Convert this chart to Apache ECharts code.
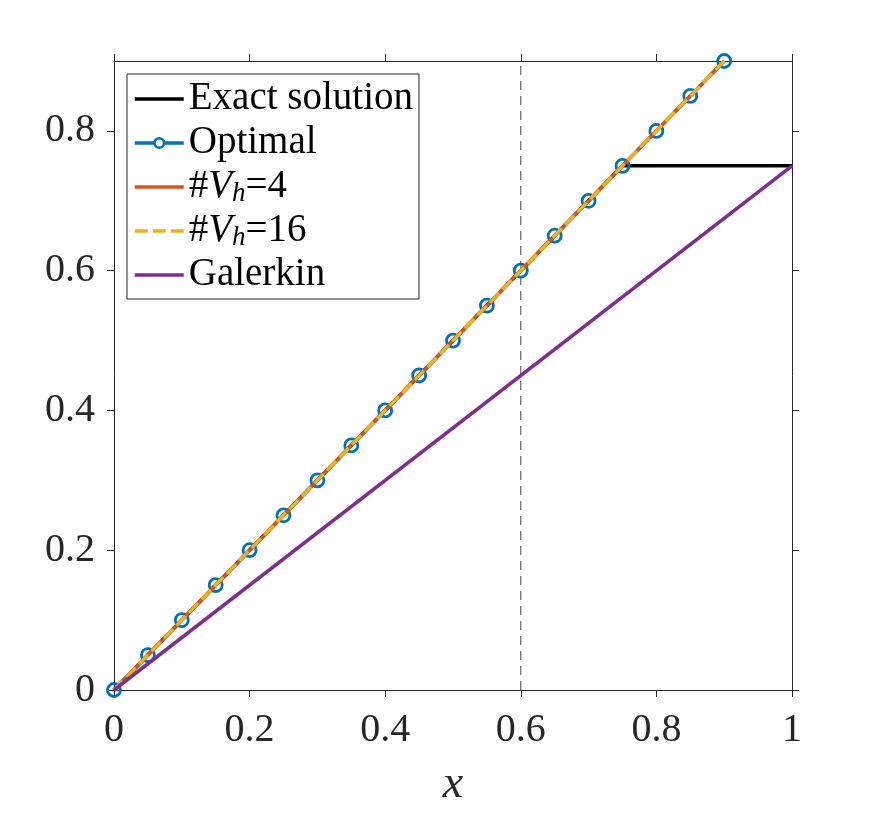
<!DOCTYPE html>
<html>
<head>
<meta charset="utf-8">
<script src="https://cdn.jsdelivr.net/npm/echarts@6/dist/echarts.min.js"></script>
<style>
html,body{margin:0;padding:0;background:#fff;}
#chart{width:875px;height:813px;}
</style>
</head>
<body>
<div id="chart"></div>
<script>
// ---- data ----
const xTicks = [0, 0.2, 0.4, 0.6, 0.8, 1];
const yTicks = [0, 0.2, 0.4, 0.6, 0.8];
const exactX = [0, 0.75, 1];
const exactY = [0, 0.75, 0.75];
const optimalX = [0, 0.05, 0.1, 0.15, 0.2, 0.25, 0.3, 0.35, 0.4, 0.45, 0.5, 0.55, 0.6, 0.65, 0.7, 0.75, 0.8, 0.85, 0.9];
const optimalY = [0, 0.05, 0.1, 0.15, 0.2, 0.25, 0.3, 0.35, 0.4, 0.45, 0.5, 0.55, 0.6, 0.65, 0.7, 0.75, 0.8, 0.85, 0.9];
const vh4X = [0, 0.9];
const vh4Y = [0, 0.9];
const vh16X = [0, 0.9];
const vh16Y = [0, 0.9];
const galerkinX = [0, 1];
const galerkinY = [0, 0.75];
const refLineX = [0.6, 0.6];
const refLineY = [0, 0.9];
const seriesNames = ['Exact solution', 'Optimal', '#Vh=4', '#Vh=16', 'Galerkin'];
const seriesColors = ['#000000', '#0072BD', '#D95319', '#EDB120', '#7E2F8E'];

const zip = (xs, ys) => xs.map((x, i) => [x, ys[i]]);

const FONT = '"Liberation Serif", "DejaVu Serif", serif';
const AX = '#262626';
const LW = 3.5;

const chart = echarts.init(document.getElementById('chart'), null, {renderer: 'canvas'});

const legendNames = {
  'Exact solution': 'Exact solution',
  'Optimal': 'Optimal',
  '#Vh=4': '#{v|V}{h|h}=4',
  '#Vh=16': '#{v|V}{h|h}=16',
  'Galerkin': 'Galerkin'
};

const legendData = seriesNames.map((n, i) => {
  const item = {
    name: n,
    lineStyle: {color: seriesColors[i], width: LW, type: n === '#Vh=16' ? [13, 5] : 'solid'}
  };
  if (n === 'Optimal') {
    item.itemStyle = {color: '#fff', borderColor: seriesColors[i], borderWidth: 2.6};
  } else {
    item.itemStyle = {opacity: 0};
  }
  return item;
});

const option = {
  animation: false,
  backgroundColor: '#fff',
  grid: {left: 114, right: 83, top: 61, bottom: 122, containLabel: false},
  legend: {
    orient: 'vertical',
    left: 127, top: 74,
    data: legendData,
    backgroundColor: '#fff',
    borderColor: '#262626',
    borderWidth: 1,
    padding: [5, 6, 4, 6],
    itemGap: 4,
    itemWidth: 49,
    itemHeight: 12,
    formatter: n => legendNames[n],
    textStyle: {
      fontFamily: FONT, fontSize: 39, color: '#000', lineHeight: 40,
      rich: {
        v: {fontFamily: FONT, fontSize: 39, fontStyle: 'italic', lineHeight: 40, color: '#000'},
        h: {fontFamily: FONT, fontSize: 27, fontStyle: 'italic', lineHeight: 16, verticalAlign: 'bottom', color: '#000'}
      }
    }
  },
  xAxis: [
    {
      type: 'value', min: 0, max: 1, interval: 0.2, position: 'bottom',
      name: 'x', nameLocation: 'middle', nameGap: 72,
      nameTextStyle: {fontFamily: FONT, fontSize: 46, fontStyle: 'italic', color: AX},
      axisLine: {show: true, onZero: false, lineStyle: {color: AX, width: 1}},
      axisTick: {show: true, inside: false, length: 7, lineStyle: {color: AX}, customValues: xTicks},
      axisLabel: {show: true, margin: 20, fontFamily: FONT, fontSize: 40, color: AX, customValues: xTicks},
      splitLine: {show: false}
    },
    {
      type: 'value', min: 0, max: 1, interval: 0.2, position: 'top',
      axisLine: {show: true, onZero: false, lineStyle: {color: AX, width: 1}},
      axisTick: {show: true, inside: false, length: 7, lineStyle: {color: AX}, customValues: xTicks},
      axisLabel: {show: false},
      splitLine: {show: false}
    }
  ],
  yAxis: [
    {
      type: 'value', min: 0, max: 0.9, interval: 0.2, position: 'left',
      axisLine: {show: true, onZero: false, lineStyle: {color: AX, width: 1}},
      axisTick: {show: true, inside: false, length: 7, lineStyle: {color: AX}, customValues: yTicks},
      axisLabel: {show: true, margin: 19, fontFamily: FONT, fontSize: 40, color: AX, customValues: yTicks},
      splitLine: {show: false}
    },
    {
      type: 'value', min: 0, max: 0.9, interval: 0.2, position: 'right',
      axisLine: {show: true, onZero: false, lineStyle: {color: AX, width: 1}},
      axisTick: {show: true, inside: false, length: 7, lineStyle: {color: AX}, customValues: yTicks},
      axisLabel: {show: false},
      splitLine: {show: false}
    }
  ],
  series: [
    {
      name: 'ref', type: 'line', data: zip(refLineX, refLineY), showSymbol: false, symbol: 'none',
      lineStyle: {color: '#444', width: 1, type: [9, 6]}, silent: true, z: 1
    },
    {
      name: 'Exact solution', type: 'line', data: zip(exactX, exactY), symbol: 'none',
      lineStyle: {color: seriesColors[0], width: LW}, itemStyle: {color: seriesColors[0]}, clip: false, z: 2
    },
    {
      name: 'Optimal', type: 'line', data: zip(optimalX, optimalY),
      symbol: 'circle', symbolSize: 13, showSymbol: true,
      lineStyle: {color: seriesColors[1], width: LW},
      itemStyle: {color: 'rgba(0,0,0,0)', borderColor: seriesColors[1], borderWidth: 2.8},
      clip: false, z: 3
    },
    {
      name: '#Vh=4', type: 'line', data: zip(vh4X, vh4Y), symbol: 'none',
      lineStyle: {color: seriesColors[2], width: LW}, itemStyle: {color: seriesColors[2]}, clip: false, z: 4
    },
    {
      name: '#Vh=16', type: 'line', data: zip(vh16X, vh16Y), symbol: 'none',
      lineStyle: {color: seriesColors[3], width: LW, type: [13, 5]}, itemStyle: {color: seriesColors[3]}, clip: false, z: 5
    },
    {
      name: 'Galerkin', type: 'line', data: zip(galerkinX, galerkinY), symbol: 'none',
      lineStyle: {color: seriesColors[4], width: LW}, itemStyle: {color: seriesColors[4]}, clip: false, z: 6
    }
  ]
};
chart.setOption(option);
</script>
</body>
</html>
